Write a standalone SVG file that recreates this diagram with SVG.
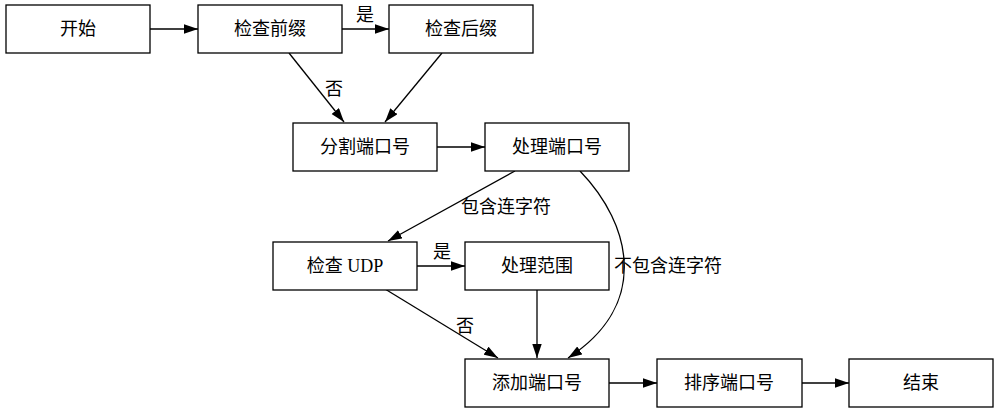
<svg xmlns="http://www.w3.org/2000/svg" width="999" height="413" viewBox="0 0 999 413">
<defs>
<marker id="arr" markerUnits="userSpaceOnUse" markerWidth="15" markerHeight="10" refX="14" refY="4.7" orient="auto">
<path d="M0,0 L14,4.7 L0,9.4 z" fill="#000"/>
</marker>
<style>
.n{fill:#fff;stroke:#000;stroke-width:1.3}
text{font-family:"Liberation Serif","Noto Sans CJK SC",serif;font-size:18px;fill:#000;text-anchor:middle;dominant-baseline:central}
.e{fill:none;stroke:#000;stroke-width:1.3;marker-end:url(#arr)}
</style>
</defs>
<rect width="999" height="413" fill="#fff"/>
<g id="connectors">
<path class="e" d="M150,29 L198,29"/>
<path class="e" d="M342,29 L389,29"/>
<path class="e" d="M289,53 L344,122"/>
<path class="e" d="M442,53 L385,122"/>
<path class="e" d="M437,147 L485,147"/>
<path class="e" d="M515,171 L388,241"/>
<path class="e" d="M580,171 C632,225 650,305 568,358"/>
<path class="e" d="M417,266 L465,266"/>
<path class="e" d="M385,289 L498,358"/>
<path class="e" d="M537,290 L537,358"/>
<path class="e" d="M609,383 L657,383"/>
<path class="e" d="M802,383 L849,383"/>
<text x="365" y="15">是</text>
<text x="334" y="89">否</text>
<text x="506" y="207">包含连字符</text>
<text x="668" y="266">不包含连字符</text>
<text x="442" y="252">是</text>
<text x="465" y="326">否</text>
</g>
<g id="start"><rect class="n" x="6" y="5" width="144" height="48"/><text x="78" y="29">开始</text></g>
<g id="checkPrefix"><rect class="n" x="198" y="5" width="144" height="48"/><text x="270" y="29">检查前缀</text></g>
<g id="checkSuffix"><rect class="n" x="389" y="5" width="144" height="48"/><text x="461" y="29">检查后缀</text></g>
<g id="splitPort"><rect class="n" x="293" y="123" width="144" height="48"/><text x="365" y="147">分割端口号</text></g>
<g id="processPort"><rect class="n" x="485" y="123" width="144" height="48"/><text x="557" y="147">处理端口号</text></g>
<g id="checkUDP"><rect class="n" x="273" y="242" width="144" height="48"/><text x="345" y="266">检查 UDP</text></g>
<g id="processRange"><rect class="n" x="465" y="242" width="144" height="48"/><text x="537" y="266">处理范围</text></g>
<g id="addPort"><rect class="n" x="465" y="359" width="144" height="48"/><text x="537" y="383">添加端口号</text></g>
<g id="sortPort"><rect class="n" x="657" y="359" width="145" height="48"/><text x="729" y="383">排序端口号</text></g>
<g id="end"><rect class="n" x="849" y="359" width="144" height="48"/><text x="921" y="383">结束</text></g>
</svg>
